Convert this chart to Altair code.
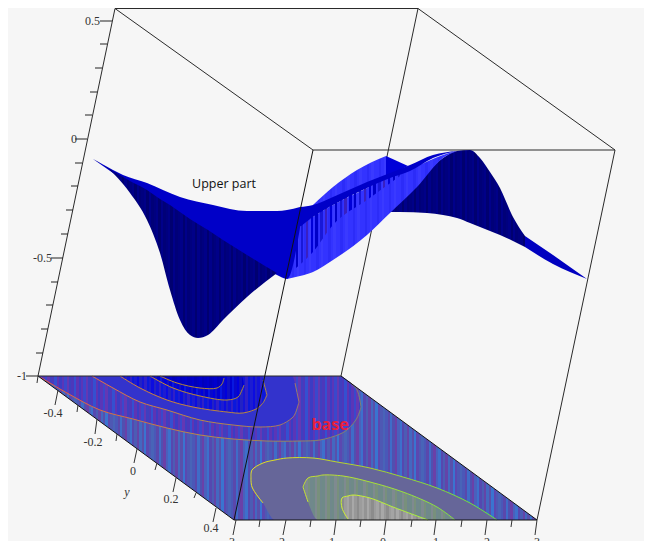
import altair as alt
import pandas as pd

BG = "#f6f6f6"
SX = alt.Scale(domain=[8, 644], range=[0, 636], nice=False, zero=False)
SY = alt.Scale(domain=[8, 541], range=[0, 533], nice=False, zero=False)
X = alt.X("x:Q", scale=SX, axis=None)
Y = alt.Y("y:Q", scale=SY, axis=None)
X2 = alt.X2("x2:Q")
Y2 = alt.Y2("y2:Q")

# ---- palettes of the base stripes
P_OUT = ["#4a58b8", "#5a48ac", "#3f6cc8", "#5050b0", "#6a40a8", "#4a60bc", "#3d70cc", "#5548b0",
         "#4c5cb4", "#6444a8", "#4468c0", "#5850ac", "#3a74d0", "#5c48b0", "#4e58b4", "#4864b8"]
P_A = ["#3c3cc4", "#5a36b8", "#3a48cc", "#6438b4", "#3f3fc0", "#4c38bc", "#3450d0", "#5e34b4"]
P_B = ["#3333cc"]
P_C = ["#1c1cd2", "#0c0ce0", "#2222c4", "#1414d8", "#3020c8", "#0a18dc"]
P_D = ["#0808cc", "#0000dc", "#1010c4", "#0000d0", "#0818e0"]
P_E = ["#0000c4", "#0000cc", "#0000bc"]
P_F = ["#666699"]
P_G = ["#6f8a88", "#7f8a90", "#78907c", "#70888c"]
P_H = ["#8c8c8c", "#9c9c9c", "#a4a4a4", "#949494", "#a8a8a8", "#989898"]
P_NAVY = ["#00007f", "#000088", "#000070", "#00008a", "#000078"]
P_LIGHT = ["#3333ff", "#3333ff", "#2c2cf8", "#3333ff", "#3a3aff"]
P_JAG = ["#0000c8", "#00000000", "#1818d8", "#00000000", "#3a20c0", "#00000000", "#0000d8", "#00000000"]

# ---- base plane
BASE_X = [38, 234, 341, 537]
BASE_TOP = [376, 376, 376, 520]
BASE_BOT = [376, 520, 520, 520]

# ---- contour regions: x, upper edge, lower edge
A_X = [40, 67, 100, 133, 167, 200, 233, 267, 300, 320, 340, 348, 357, 361]
A_T = [376, 376, 376, 376, 376, 376, 376, 376, 376, 376, 376, 381, 390, 407]
A_B = [377, 393, 410, 419, 428, 435, 439, 441, 441, 440, 434, 429, 418, 407]
B_X = [92, 113, 140, 167, 200, 233, 260, 280, 292, 295, 299]
B_T = [376, 376, 376, 376, 376, 376, 376, 376, 376, 383, 402]
B_B = [376, 388, 402, 410, 420, 425, 427, 425, 418, 414, 402]
C_X = [120, 140, 167, 193, 227, 243, 258, 262, 263, 267]
C_T = [376, 376, 376, 376, 376, 376, 376, 376, 380, 395]
C_B = [376, 388, 400, 407, 412, 413, 408, 404, 403, 395]
D_X = [150, 173, 200, 227, 238, 242, 244]
D_T = [376, 376, 376, 376, 376, 376, 385]
D_B = [376, 388, 396, 400, 397, 390, 385]
E_X = [160, 177, 200, 217, 222, 224]
E_T = [376, 376, 376, 376, 376, 376]
E_B = [376, 383, 388, 388, 384, 378]
F_X = [251, 252, 263, 275, 287, 313, 337, 370, 403, 437, 470, 497]
F_T = [477, 470, 463, 460, 458, 458, 462, 468, 477, 488, 503, 520]
F_B = [477, 487, 503, 520, 520, 520, 520, 520, 520, 520, 520, 520]
G_X = [303, 308, 318, 323, 343, 370, 403, 437, 455]
G_T = [487, 478, 476, 475, 476, 482, 492, 507, 520]
G_B = [487, 502, 520, 520, 520, 520, 520, 520, 520]
H_X = [342, 348, 353, 370, 393, 428]
H_T = [498, 496, 495, 498, 507, 520]
H_B = [508, 519, 520, 520, 520, 520]

# ---- surface pieces
HUMP_X = [313, 333, 357, 386]
HUMP_T = [205, 187, 170, 156]
HUMP_B = [207, 200, 190, 178]
HUMP2_X = [386, 408]
HUMP2_T = [156, 166]
HUMP2_B = [177, 166]
LIGHT_X = [287, 300, 313, 333, 367, 390, 417, 443, 457]
LIGHT_T = [279, 227, 217, 205, 188, 176, 166, 155, 151]
LIGHT_B = [279, 276, 272, 260, 235, 213, 187, 158, 151]
JAG_X = [296, 313, 333, 367, 400]
JAG_T = [225, 215, 203, 186, 170]
JAG_B = [268, 252, 225, 200, 176]
BAND_X = [300, 313, 333, 367, 390, 410, 433, 457]
BAND_T = [207, 205, 197, 182, 173, 165, 155, 151]
BAND_B = [227, 217, 205, 188, 178, 171, 158, 151]
MID_X = [93, 113, 123, 147, 180, 213, 247, 277, 287, 300]
MID_T = [159, 170, 175, 183, 197, 205, 211, 211, 210, 207]
MID_B = [159, 173, 180, 193, 215, 236, 258, 275, 279, 228]
DL_X = [93, 113, 123, 130, 147, 160, 170, 180, 190, 198, 208, 223, 247, 277]
DL_T = [159, 171, 177, 181, 190, 199, 205, 212, 219, 224, 230, 240, 255, 273]
DL_B = [159, 173, 184, 193, 220, 253, 290, 320, 335, 338, 335, 320, 297, 273]
DR_X = [385, 400, 427, 443, 457, 470, 480, 490, 500, 513, 525]
DR_T = [212, 197, 172, 158, 151, 150, 158, 172, 188, 217, 236]
DR_B = [212, 212, 213, 215, 218, 223, 227, 231, 235, 241, 247]
TAIL_X = [525, 553, 587]
TAIL_T = [236, 255, 279]
TAIL_B = [247, 264, 279]

# ---- box edges: x1, y1, x2, y2
BACK_X1 = [115, 115, 418, 615, 313, 115, 418, 38]
BACK_Y1 = [8.5, 8.5, 8.5, 150, 150, 8.5, 8.5, 376]
BACK_X2 = [418, 313, 615, 537, 615, 38, 341, 341]
BACK_Y2 = [8.5, 150, 150, 520, 150, 376, 376, 376]
FRONT_X1 = [313, 38, 234, 341]
FRONT_Y1 = [150, 376, 520, 376]
FRONT_X2 = [234, 234, 537, 537]
FRONT_Y2 = [520, 520, 520, 520]

# ---- ticks
Z_TICK_Y = [21, 44, 68, 92, 115, 139, 163, 186, 210, 234, 258, 282, 305, 329, 353, 376]
Z_TICK_X = [112, 107, 102, 97, 92, 87, 82, 78, 73, 68, 63, 58, 53, 48, 43, 38]
Z_TICK_L = [100, 100, 95, 90, 85, 75, 75, 71, 66, 61, 51, 51, 46, 41, 36, 26]
Y_T_X1 = [38, 58, 78, 97, 117, 137, 157, 176, 196, 216]
Y_T_Y1 = [376, 390, 405, 419, 434, 449, 463, 478, 493, 508]
Y_T_X2 = [37, 55, 77, 95, 116, 134, 155, 173, 194, 213]
Y_T_Y2 = [383, 405, 412, 434, 441, 463, 470, 492, 498, 522]
X_T_X1 = [236, 260, 286, 311, 336, 361, 386, 412, 436, 462, 487, 512, 537]
X_T_X2 = [233, 259, 283, 310, 334, 360, 384, 411, 434, 461, 485, 511, 535]
X_T_Y2 = [535, 527, 535, 527, 535, 527, 535, 527, 535, 527, 535, 527, 535]

# ---- labels
Z_LAB = ["0.5", "0", "-0.5", "-1"]
Z_LAB_X = [100, 77, 52, 27]
Z_LAB_Y = [21, 139, 258, 376]
Y_LAB = ["-0.4", "-0.2", "0", "0.2", "0.4"]
Y_LAB_X = [53, 93, 133, 171, 211]
Y_LAB_Y = [413, 442, 471, 499, 528]
X_LAB = ["-3", "-2", "-1", "0", "1", "2", "3"]
X_LAB_X = [235, 285, 335, 386, 439, 490, 540]
X_LAB_Y = [537] * 7


def stripes(palette, xs):
    n = max(1, int((max(xs) - min(xs)) / 2.4))
    stops = []
    for i in range(n):
        c = palette[i % len(palette)]
        stops.append(alt.GradientStop(color=c, offset=i / n))
        stops.append(alt.GradientStop(color=c, offset=(i + 1) / n))
    return alt.LinearGradient(gradient="linear", x1=0, x2=1, y1=0, y2=0, stops=stops)


def ramp(c1, c2, c3=None):
    cs = [c1, c2] if c3 is None else [c1, c2, c3]
    stops = [alt.GradientStop(color=c, offset=i / (len(cs) - 1)) for i, c in enumerate(cs)]
    return alt.LinearGradient(gradient="linear", x1=0, x2=1, y1=0, y2=0, stops=stops)


def region(xs, top, bot, fill, curve="monotone"):
    df = pd.DataFrame({"x": xs, "y": top, "y2": bot})
    return alt.Chart(df).mark_area(fill=fill, interpolate=curve).encode(x=X, y=Y, y2=Y2)


def contour(xs, top, bot, stroke, upper):
    if upper:
        pts = list(zip(xs, bot)) + [(x, t) for x, t in reversed(list(zip(xs, top))) if t > 376]
    else:
        pts = [(x, b) for x, b in reversed(list(zip(xs, bot))) if b < 520] + list(zip(xs, top))
    df = pd.DataFrame(pts, columns=["x", "y"])
    df["o"] = range(len(df))
    return alt.Chart(df).mark_line(stroke=stroke, strokeWidth=1, interpolate="catmull-rom").encode(
        x=X, y=Y, order="o:Q")


def segs(x1, y1, x2, y2, color="#2a2a2a", w=1.0):
    df = pd.DataFrame({"x": x1, "y": y1, "x2": x2, "y2": y2})
    return alt.Chart(df).mark_rule(color=color, strokeWidth=w).encode(x=X, y=Y, x2=X2, y2=Y2)


def labels(t, x, y, **kw):
    df = pd.DataFrame({"t": t, "x": x, "y": y})
    return alt.Chart(df).mark_text(**kw).encode(x=X, y=Y, text="t:N")


layers = [
    region(BASE_X, BASE_TOP, BASE_BOT, stripes(P_OUT, BASE_X), "linear"),
    region(A_X, A_T, A_B, stripes(P_A, A_X)),
    region(B_X, B_T, B_B, stripes(P_B, B_X)),
    region(C_X, C_T, C_B, stripes(P_C, C_X)),
    region(D_X, D_T, D_B, stripes(P_D, D_X)),
    region(E_X, E_T, E_B, stripes(P_E, E_X)),
    region(F_X, F_T, F_B, stripes(P_F, F_X)),
    region(G_X, G_T, G_B, stripes(P_G, G_X)),
    region(H_X, H_T, H_B, stripes(P_H, H_X)),
    contour(A_X, A_T, A_B, ramp("#f05a3c", "#b88a48", "#7f8070"), True),
    contour(B_X, B_T, B_B, ramp("#e87040", "#b88a48", "#a07868"), True),
    contour(C_X, C_T, C_B, ramp("#d88038", "#b08840"), True),
    contour(D_X, D_T, D_B, ramp("#c88830", "#a88838"), True),
    contour(E_X, E_T, E_B, ramp("#c08830", "#a88838"), True),
    contour(F_X, F_T, F_B, ramp("#e8e020", "#a8d030", "#60e840"), False),
    contour(G_X, G_T, G_B, ramp("#c8e030", "#80e040"), False),
    contour(H_X, H_T, H_B, ramp("#d0f030", "#a0f040"), False),
    segs(BACK_X1, BACK_Y1, BACK_X2, BACK_Y2),
    region(HUMP_X, HUMP_T, HUMP_B, stripes(P_LIGHT, HUMP_X)),
    region(HUMP2_X, HUMP2_T, HUMP2_B, "#0000d8", "linear"),
    region(DR_X, DR_T, DR_B, stripes(P_NAVY, DR_X)),
    region(LIGHT_X, LIGHT_T, LIGHT_B, stripes(P_LIGHT, LIGHT_X)),
    region(JAG_X, JAG_T, JAG_B, stripes(P_JAG, JAG_X)),
    region(BAND_X, BAND_T, BAND_B, "#0000c8"),
    region(MID_X, MID_T, MID_B, "#0000c8"),
    region(DL_X, DL_T, DL_B, stripes(P_NAVY, DL_X)),
    region(TAIL_X, TAIL_T, TAIL_B, "#0000c0"),
    segs(FRONT_X1, FRONT_Y1, FRONT_X2, FRONT_Y2, "#111111", 1.0),
    segs(Z_TICK_X, Z_TICK_Y, Z_TICK_L, Z_TICK_Y, "#222222"),
    segs(Y_T_X1, Y_T_Y1, Y_T_X2, Y_T_Y2, "#333333"),
    segs(X_T_X1, [520] * 13, X_T_X2, X_T_Y2, "#333333"),
    labels(Z_LAB, Z_LAB_X, Z_LAB_Y, align="right", baseline="middle", font="Liberation Serif", fontSize=12, color="#333333"),
    labels(Y_LAB, Y_LAB_X, Y_LAB_Y, align="center", baseline="middle", font="Liberation Serif", fontSize=12, color="#333333"),
    labels(["y"], [127], [492], align="center", baseline="middle", font="Liberation Serif", fontSize=12, fontStyle="italic", color="#333333"),
    labels(X_LAB, X_LAB_X, X_LAB_Y, align="right", baseline="top", font="Liberation Serif", fontSize=12, color="#333333"),
    labels(["Upper part"], [224], [184], align="center", baseline="middle", font="Open Sans", fontSize=12.5, color="#111111"),
    labels(["base"], [330], [425], align="center", baseline="middle", font="Open Sans", fontSize=16, fontWeight="bold", color="#e8203c"),
]

chart = alt.layer(*layers).properties(
    width=636, height=533, padding=0, background=BG,
    autosize=alt.AutoSizeParams(type="none"),
).configure_view(stroke=None)

chart.save("out.html", embed_options={"renderer": "svg", "actions": False})
